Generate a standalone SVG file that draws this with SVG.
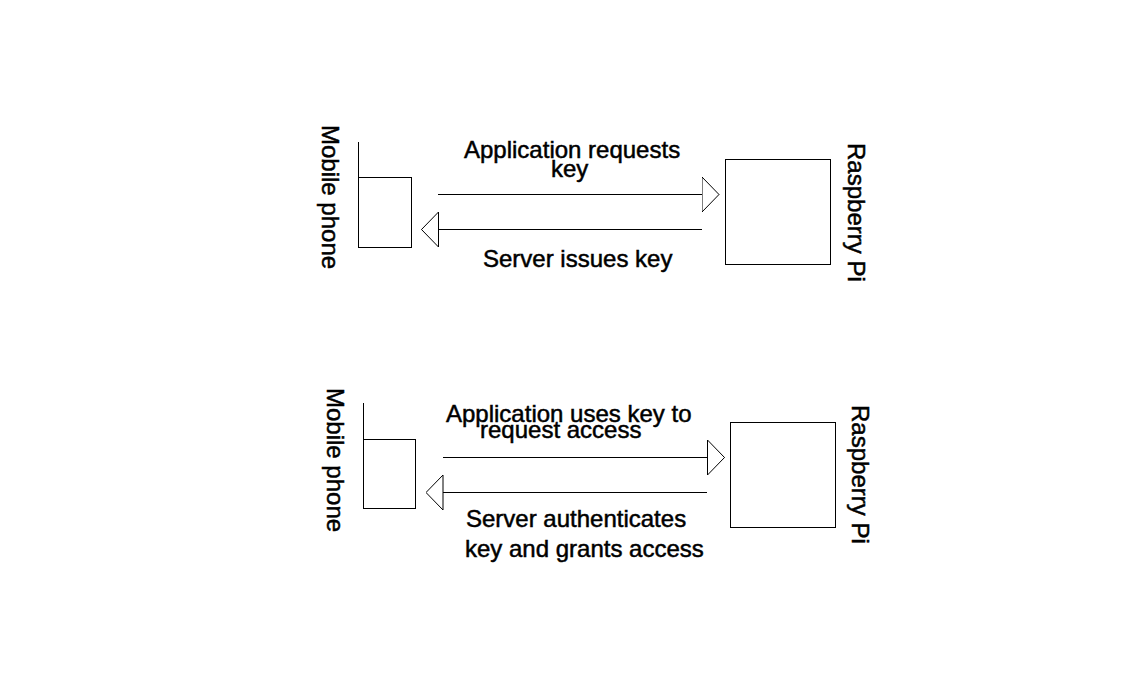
<svg xmlns="http://www.w3.org/2000/svg" width="1137" height="675" viewBox="0 0 1137 675">
<style>
.box{fill:#fff;stroke:#000;stroke-width:1}
.ln{fill:none;stroke:#000;stroke-width:1}
.t{font-family:"Liberation Sans",Arial,sans-serif;font-size:24px;fill:#000;stroke:#000;stroke-width:0.5}
</style>
<defs>
<marker id="ah" markerUnits="userSpaceOnUse" viewBox="0 0 18 36" refX="17.5" refY="18" markerWidth="18" markerHeight="36" orient="auto">
<path d="M0.5,0.5 L17.5,18 L0.5,35.5 Z" fill="#fff" stroke="#000" stroke-width="1"/>
</marker>
</defs>
<rect width="1137" height="675" fill="#fff"/>
<g id="mobile1">
<line class="ln" x1="358.5" y1="142" x2="358.5" y2="177.5"/>
<rect class="box" x="358.5" y="177.5" width="53" height="70"/>
<text class="t" transform="translate(322,125) rotate(90)">Mobile phone</text>
</g>
<g id="pi1">
<rect class="box" x="725.5" y="159.5" width="105" height="105"/>
<text class="t" transform="translate(848,143) rotate(90)">Raspberry Pi</text>
</g>
<g id="mobile2">
<line class="ln" x1="363.5" y1="403" x2="363.5" y2="439.5"/>
<rect class="box" x="363.5" y="439.5" width="52" height="69"/>
<text class="t" transform="translate(327,388) rotate(90)">Mobile phone</text>
</g>
<g id="pi2">
<rect class="box" x="730.5" y="422.5" width="105" height="105"/>
<text class="t" transform="translate(852,405) rotate(90)">Raspberry Pi</text>
</g>
<g id="connectors">
<line class="ln" x1="438" y1="194.5" x2="719" y2="194.5" marker-end="url(#ah)"/>
<line class="ln" x1="702" y1="229.5" x2="421.5" y2="229.5" marker-end="url(#ah)"/>
<line class="ln" x1="443" y1="457.5" x2="724.5" y2="457.5" marker-end="url(#ah)"/>
<line class="ln" x1="707" y1="492.5" x2="426" y2="492.5" marker-end="url(#ah)"/>
<text class="t" x="464" y="158">Application requests</text>
<text class="t" x="551" y="177">key</text>
<text class="t" x="483" y="267">Server issues key</text>
<text class="t" x="446" y="422">Application uses key to</text>
<text class="t" x="480" y="438">request access</text>
<text class="t" x="466" y="527">Server authenticates</text>
<text class="t" x="465" y="557">key and grants access</text>
</g>
</svg>
